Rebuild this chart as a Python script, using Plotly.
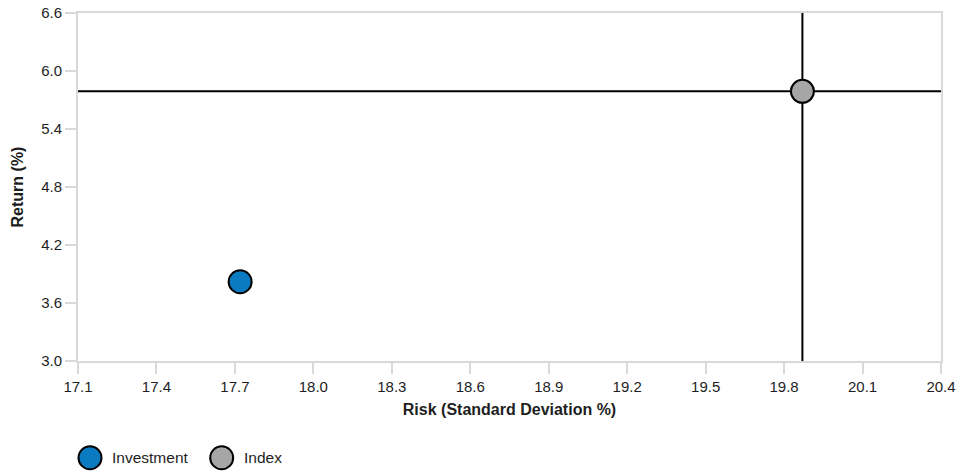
import plotly.graph_objects as go

names = ["Investment", "Index"]
risk = [17.72, 19.87]
ret = [3.82, 5.79]
colors = ["#0a7bc1", "#a6a6a6"]

x_ticks = [17.1, 17.4, 17.7, 18.0, 18.3, 18.6, 18.9, 19.2, 19.5, 19.8, 20.1, 20.4]
y_ticks = [3.0, 3.6, 4.2, 4.8, 5.4, 6.0, 6.6]

fig = go.Figure()
for n, xv, yv, c in zip(names, risk, ret, colors):
    fig.add_trace(go.Scatter(
        x=[xv], y=[yv], mode="markers", name=n, showlegend=False,
        marker=dict(size=23, color=c, line=dict(color="#000000", width=2)),
    ))

idx = names.index("Index")
# crosshair lines through the index point
fig.add_shape(type="line", xref="paper", yref="y", x0=0, x1=1,
              y0=ret[idx], y1=ret[idx], line=dict(color="#000000", width=2), layer="below")
fig.add_shape(type="line", xref="x", yref="paper", x0=risk[idx], x1=risk[idx],
              y0=0, y1=1, line=dict(color="#000000", width=2), layer="below")

# manual legend with large markers
leg_y = -0.278
leg_x = [0.0139, 0.1665]
for i, (n, c) in enumerate(zip(names, colors)):
    fig.add_shape(type="circle", xref="paper", yref="paper",
                  xsizemode="pixel", ysizemode="pixel",
                  xanchor=leg_x[i], yanchor=leg_y,
                  x0=-11.5, x1=11.5, y0=-11.5, y1=11.5,
                  fillcolor=c, line=dict(color="#000000", width=2))
    fig.add_annotation(xref="paper", yref="paper", x=leg_x[i], y=leg_y,
                       xshift=20, text=n, showarrow=False, xanchor="left",
                       yanchor="middle", font=dict(size=15.5, color="#1e1e1e"))

axis_common = dict(
    showgrid=False, zeroline=False, showline=True, linecolor="#d9d9d9",
    linewidth=2, mirror=True, ticks="outside", tickcolor="#d9d9d9",
    ticklen=11, tickwidth=2, tickfont=dict(size=15, color="#1e1e1e"),
    automargin=False,
)
fig.update_xaxes(range=[17.1, 20.4], tickvals=x_ticks,
                 ticktext=[f"{v:.1f}" for v in x_ticks],
                 title=dict(text="<b>Risk (Standard Deviation %)</b>",
                            font=dict(size=16, color="#1e1e1e"), standoff=10),
                 **axis_common)
fig.update_yaxes(range=[3.0, 6.6], tickvals=y_ticks,
                 ticktext=[f"{v:.1f}" for v in y_ticks],
                 title=dict(text="<b>Return (%)</b>",
                            font=dict(size=16, color="#1e1e1e"), standoff=14),
                 **axis_common)

fig.update_layout(
    width=961, height=474,
    margin=dict(l=78, r=20, t=13, b=113),
    paper_bgcolor="#ffffff", plot_bgcolor="#ffffff",
    font=dict(family="Liberation Sans, Arial, sans-serif"),
    showlegend=False,
)
fig.write_html("out.html", config={"displayModeBar": False},
               post_script="document.body.style.margin='0';document.body.style.overflow='hidden';")
